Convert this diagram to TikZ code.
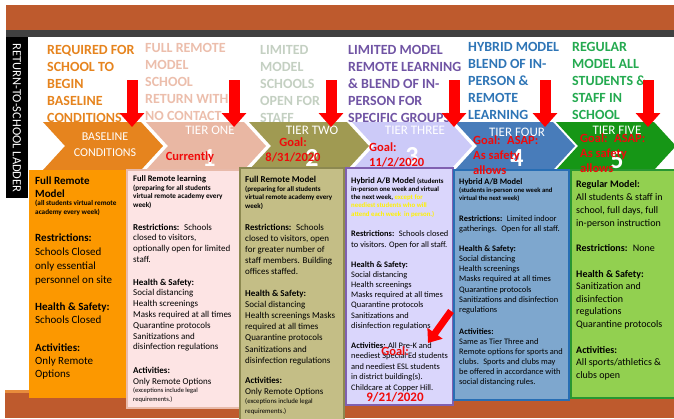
\documentclass[tikz,border=0pt]{standalone}
\usepackage{fontspec}
\setmainfont{Carlito}
\usetikzlibrary{arrows.meta}

\definecolor{topband}{RGB}{190,90,45}
\definecolor{darkband}{RGB}{64,64,64}
\definecolor{botline}{RGB}{232,140,60}
\definecolor{cBase}{RGB}{230,132,30}
\definecolor{cOne}{RGB}{233,183,163}
\definecolor{cTwo}{RGB}{160,154,82}
\definecolor{cThree}{RGB}{204,202,248}
\definecolor{cFour}{RGB}{72,124,186}
\definecolor{cFive}{RGB}{22,150,22}
\definecolor{hOne}{RGB}{236,190,172}
\definecolor{hTwo}{RGB}{196,208,194}
\definecolor{hThree}{RGB}{112,84,164}
\definecolor{hFour}{RGB}{46,117,182}
\definecolor{hFive}{RGB}{36,170,80}
\definecolor{bBase}{RGB}{252,152,0}
\definecolor{bOne}{RGB}{253,228,228}
\definecolor{bOneD}{RGB}{232,186,170}
\definecolor{bTwo}{RGB}{196,190,134}
\definecolor{bTwoD}{RGB}{140,136,80}
\definecolor{bThree}{RGB}{218,214,252}
\definecolor{bThreeD}{RGB}{128,96,176}
\definecolor{bFour}{RGB}{126,167,206}
\definecolor{bFourD}{RGB}{40,110,180}
\definecolor{bFive}{RGB}{146,208,80}
\definecolor{bFiveD}{RGB}{40,150,50}
\definecolor{goalred}{RGB}{240,10,10}

\def\fs#1#2{\fontsize{#1}{#2}\selectfont}
\def\chevron(#1)#2{\fill[#2] (#1,122) -- ++(98,0) -- ++(22,24) -- ++(-22,24) -- ++(-98,0) -- ++(22,-24) -- cycle;}
\def\tierarrow(#1){\draw[redarrow] (#1,80) -- (#1,127);}

\tikzset{
	hdr/.style={anchor=base west, inner sep=0pt, align=left, font=\fs{14}{17}\bfseries},
	tierlbl/.style={inner sep=0pt, text=white, font=\fs{13}{16}},
	tiernum/.style={inner sep=0pt, text=white, font=\fs{26}{26}\bfseries},
	goal/.style={inner sep=0pt, text=goalred, align=left, font=\fs{12.5}{15}\bfseries},
	txt/.style={anchor=base west, inner sep=0pt, align=left},
	redarrow/.style={draw=red, line width=11pt, -{Triangle[width=24pt,length=14pt]}}
}

\begin{document}
\begin{tikzpicture}[x=1pt,y=-1pt]
				\useasboundingbox (0,0) rectangle (674,418);
				\clip (0,0) rectangle (674,418);
				\fill[white] (0,0) rectangle (674,418);
				
				% bands
				\fill[topband] (6,5) rectangle (674,30);
				\fill[darkband] (6,30) rectangle (674,37);
				\fill[topband] (5,390) rectangle (674,418);
				\fill[botline] (5,390) rectangle (674,393);
				\fill[black] (6,37) rectangle (28,198);
				\node[inner sep=0pt, rotate=-90, text=white, font=\fs{12.5}{14}] (ladder) at (17,118) {RETURN-TO-SCHOOL LADDER};
				
				% column headings (anchored on their last line)
				\node[hdr, text=cBase] (hd1) at (47,122) {REQUIRED FOR\\SCHOOL TO\\BEGIN\\BASELINE\\CONDITIONS};
				\node[hdr, text=hOne] (hd2) at (145,120) {FULL REMOTE\\MODEL\\SCHOOL\\RETURN WITH\\NO CONTACT};
				\node[hdr, text=hTwo] (hd3) at (260,122) {LIMITED\\MODEL\\SCHOOLS\\OPEN FOR\\STAFF};
				\node[hdr, text=hThree] (hd4) at (348,122) {LIMITED MODEL\\REMOTE LEARNING\\\& BLEND OF IN-\\PERSON FOR\\SPECIFIC GROUPS};
				\node[hdr, text=hFour] (hd5) at (468,119) {HYBRID MODEL\\BLEND OF IN-\\PERSON \&\\REMOTE\\LEARNING};
				\node[hdr, text=hFive] (hd6) at (572,119) {REGULAR\\MODEL ALL\\STUDENTS \&\\STAFF IN\\SCHOOL};
				
				% ladder
				\chevron(43){cBase}
				\chevron(146){cOne}
				\chevron(249){cTwo}
				\chevron(352){cThree}
				\chevron(455){cFour}
				\chevron(556){cFive}
				
				\node[inner sep=0pt, text=white, align=center, font=\fs{12}{16}] (base) at (105,145) {BASELINE\\CONDITIONS};
				\node[tierlbl] (t1) at (210,130) {TIER ONE};
				\node[tierlbl] (t2) at (312,130) {TIER TWO};
				\node[tierlbl] (t3) at (415,130) {TIER THREE};
				\node[tierlbl] (t4) at (517,132) {TIER FOUR};
				\node[tierlbl] (t5) at (617,130) {TIER FIVE};
				\node[tiernum] (n1) at (209,158) {1};
				\node[tiernum] (n2) at (312,158) {2};
				\node[tiernum] (n3) at (412,156) {3};
				\node[tiernum] (n4) at (517,158) {4};
				\node[tiernum] (n5) at (617,160) {5};
				
				% boxes
				\fill[bBase] (29,170) rectangle (127,398);
				\draw[draw=bOneD, fill=bOne, line width=1.2pt] (127,170) rectangle (240,408);
				\draw[draw=bTwoD, fill=bTwo, line width=1.2pt] (240,168) rectangle (344,425);
				\draw[draw=bThreeD, fill=bThree, line width=1.4pt] (346,168) rectangle (453,405);
				\draw[draw=bFourD, fill=bFour, line width=1.4pt] (454,170) rectangle (569,400);
				\draw[draw=bFiveD, fill=bFive, line width=1.4pt] (571,170) rectangle (680,398);
				
				% baseline
				\node[txt, font=\fs{11}{13}\bfseries] (b1a) at (35,197) {Full Remote\\Model};
				\node[txt, font=\fs{7.2}{9.5}\bfseries] (b1b) at (35,214.5) {(all students virtual remote\\academy every week)};
				\node[txt, font=\fs{11}{13.7}] (b1c) at (35,283) {\textbf{Restrictions:}\\Schools Closed\\only essential\\personnel on site};
				\node[txt, font=\fs{11}{13.5}] (b1d) at (35,323.5) {\textbf{Health \& Safety:}\\Schools Closed};
				\node[txt, font=\fs{11}{13}] (b1e) at (35,377) {\textbf{Activities:}\\Only Remote\\Options};
				
				% tier one
				\node[txt, font=\fs{8.5}{10}\bfseries] (b2a) at (133,181) {Full Remote learning};
				\node[txt, font=\fs{7.2}{8.7}\bfseries] (b2b) at (133,207.4) {(preparing for all students\\virtual remote academy every\\week)};
				\node[txt, font=\fs{9}{10.8}] (b2c) at (133,262.4) {\textbf{Restrictions:}~ Schools\\closed to visitors,\\optionally open for limited\\staff.};
				\node[txt, font=\fs{9}{10.8}] (b2d) at (133,349.8) {\textbf{Health \& Safety:}\\Social distancing\\Health screenings\\Masks required at all times\\Quarantine protocols\\Sanitizations and\\disinfection regulations};
				\node[txt, font=\fs{9}{11}] (b2e) at (133,384) {\textbf{Activities:}\\Only Remote Options};
				\node[txt, font=\fs{6.5}{9}] (b2f) at (133,401) {(exceptions include legal\\requirements.)};
				
				% tier two
				\node[txt, font=\fs{9}{11}\bfseries] (b3a) at (245,182) {Full Remote Model};
				\node[txt, font=\fs{7}{8.6}\bfseries] (b3b) at (245,208.2) {(preparing for all students\\virtual remote academy every\\week)};
				\node[txt, font=\fs{9}{11.2}] (b3c) at (245,274.8) {\textbf{Restrictions:}~ Schools\\closed to visitors, open\\for greater number of\\staff members. Building\\offices staffed.};
				\node[txt, font=\fs{9}{11.2}] (b3d) at (245,363.2) {\textbf{Health \& Safety:}\\Social distancing\\Health screenings Masks\\required at all times\\Quarantine protocols\\Sanitizations and\\disinfection regulations};
				\node[txt, font=\fs{9}{11.5}] (b3e) at (245,394.5) {\textbf{Activities:}\\Only Remote Options};
				\node[txt, font=\fs{6.8}{10}] (b3f) at (245,413) {(exceptions include legal\\requirements.)};
				
				% tier three
				\node[txt, font=\fs{8.5}{10}] (b4a) at (351,183) {\textbf{Hybrid A/B Model} {\fs{6.8}{8}\bfseries(students}};
				\node[txt, font=\fs{6.8}{8.4}\bfseries] (b4b) at (351,216.2) {in-person one week and virtual\\the next week, \textcolor{yellow}{except for}\\\textcolor{yellow}{neediest students who will}\\\textcolor{yellow}{attend each week~ in person.)}};
				\node[txt, font=\fs{8.4}{11}] (b4c) at (351,247) {\textbf{Restrictions:}~ Schools closed\\to visitors. Open for all staff.};
				\node[txt, font=\fs{8.4}{10.2}] (b4d) at (351,328.2) {\textbf{Health \& Safety:}\\Social distancing\\Health screenings\\Masks required at all times\\Quarantine protocols\\Sanitizations and\\disinfection regulations};
				\node[txt, font=\fs{8.4}{10.5}] (b4e) at (351,390) {\textbf{Activities:} All Pre-K and\\neediest Special Ed students\\and neediest ESL students\\in district building(s).\\Childcare at Copper Hill.};
				
				% tier four
				\node[txt, font=\fs{8.4}{10}\bfseries] (b5a) at (459,184) {Hybrid A/B Model};
				\node[txt, font=\fs{6.6}{8.5}\bfseries] (b5b) at (459,200.5) {(students in-person one week and\\virtual the next week)};
				\node[txt, font=\fs{8.4}{10}] (b5c) at (459,231) {\textbf{Restrictions:}~ Limited indoor\\gatherings.~ Open for all staff.};
				\node[txt, font=\fs{8.4}{10.3}] (b5d) at (459,312.8) {\textbf{Health \& Safety:}\\Social distancing\\Health screenings\\Masks required at all times\\Quarantine protocols\\Sanitizations and disinfection\\regulations};
				\node[txt, font=\fs{8.4}{10}] (b5e) at (459,384) {\textbf{Activities:}\\Same as Tier Three and\\Remote options for sports and\\clubs.~ Sports and clubs may\\be offered in accordance with\\social distancing rules.};
				
				% tier five
				\node[txt, font=\fs{10}{13}] (b6a) at (576,226) {\textbf{Regular Model:}\\All students \& staff in\\school, full days, full\\in-person instruction};
				\node[txt, font=\fs{10}{13}] (b6b) at (576,251) {\textbf{Restrictions:}~ None};
				\node[txt, font=\fs{10}{12.5}] (b6c) at (576,327) {\textbf{Health \& Safety:}\\Sanitization and\\disinfection\\regulations\\Quarantine protocols};
				\node[txt, font=\fs{10}{12.5}] (b6d) at (576,378) {\textbf{Activities:}\\All sports/athletics \&\\clubs open};
				
				% arrows and goals
				\tierarrow(132)
				\tierarrow(234)
				\tierarrow(331)
				\tierarrow(454)
				\tierarrow(545)
				\tierarrow(648)
				\draw[draw=red, line width=7pt, -{Triangle[width=18pt,length=12pt]}] (451,311) -- (428,343);
				
				\node[goal] (g1) at (190,157) {Currently};
				\node[goal, align=center] (g2) at (293,150) {Goal:\\8/31/2020};
				\node[goal, anchor=base west] (g3) at (369,166) {Goal:\\11/2/2020};
				\node[goal, anchor=base west] (g4) at (473,174) {Goal:~ ASAP:\\As safety\\allows};
				\node[goal, anchor=base west] (g5) at (580,172) {Goal:~ ASAP:\\As safety\\allows};
				\node[goal] (g6) at (395,351) {Goal:};
				\node[goal, font=\fs{13}{15}\bfseries] (g7) at (395,397) {9/21/2020};
			\end{tikzpicture}
\end{document}
